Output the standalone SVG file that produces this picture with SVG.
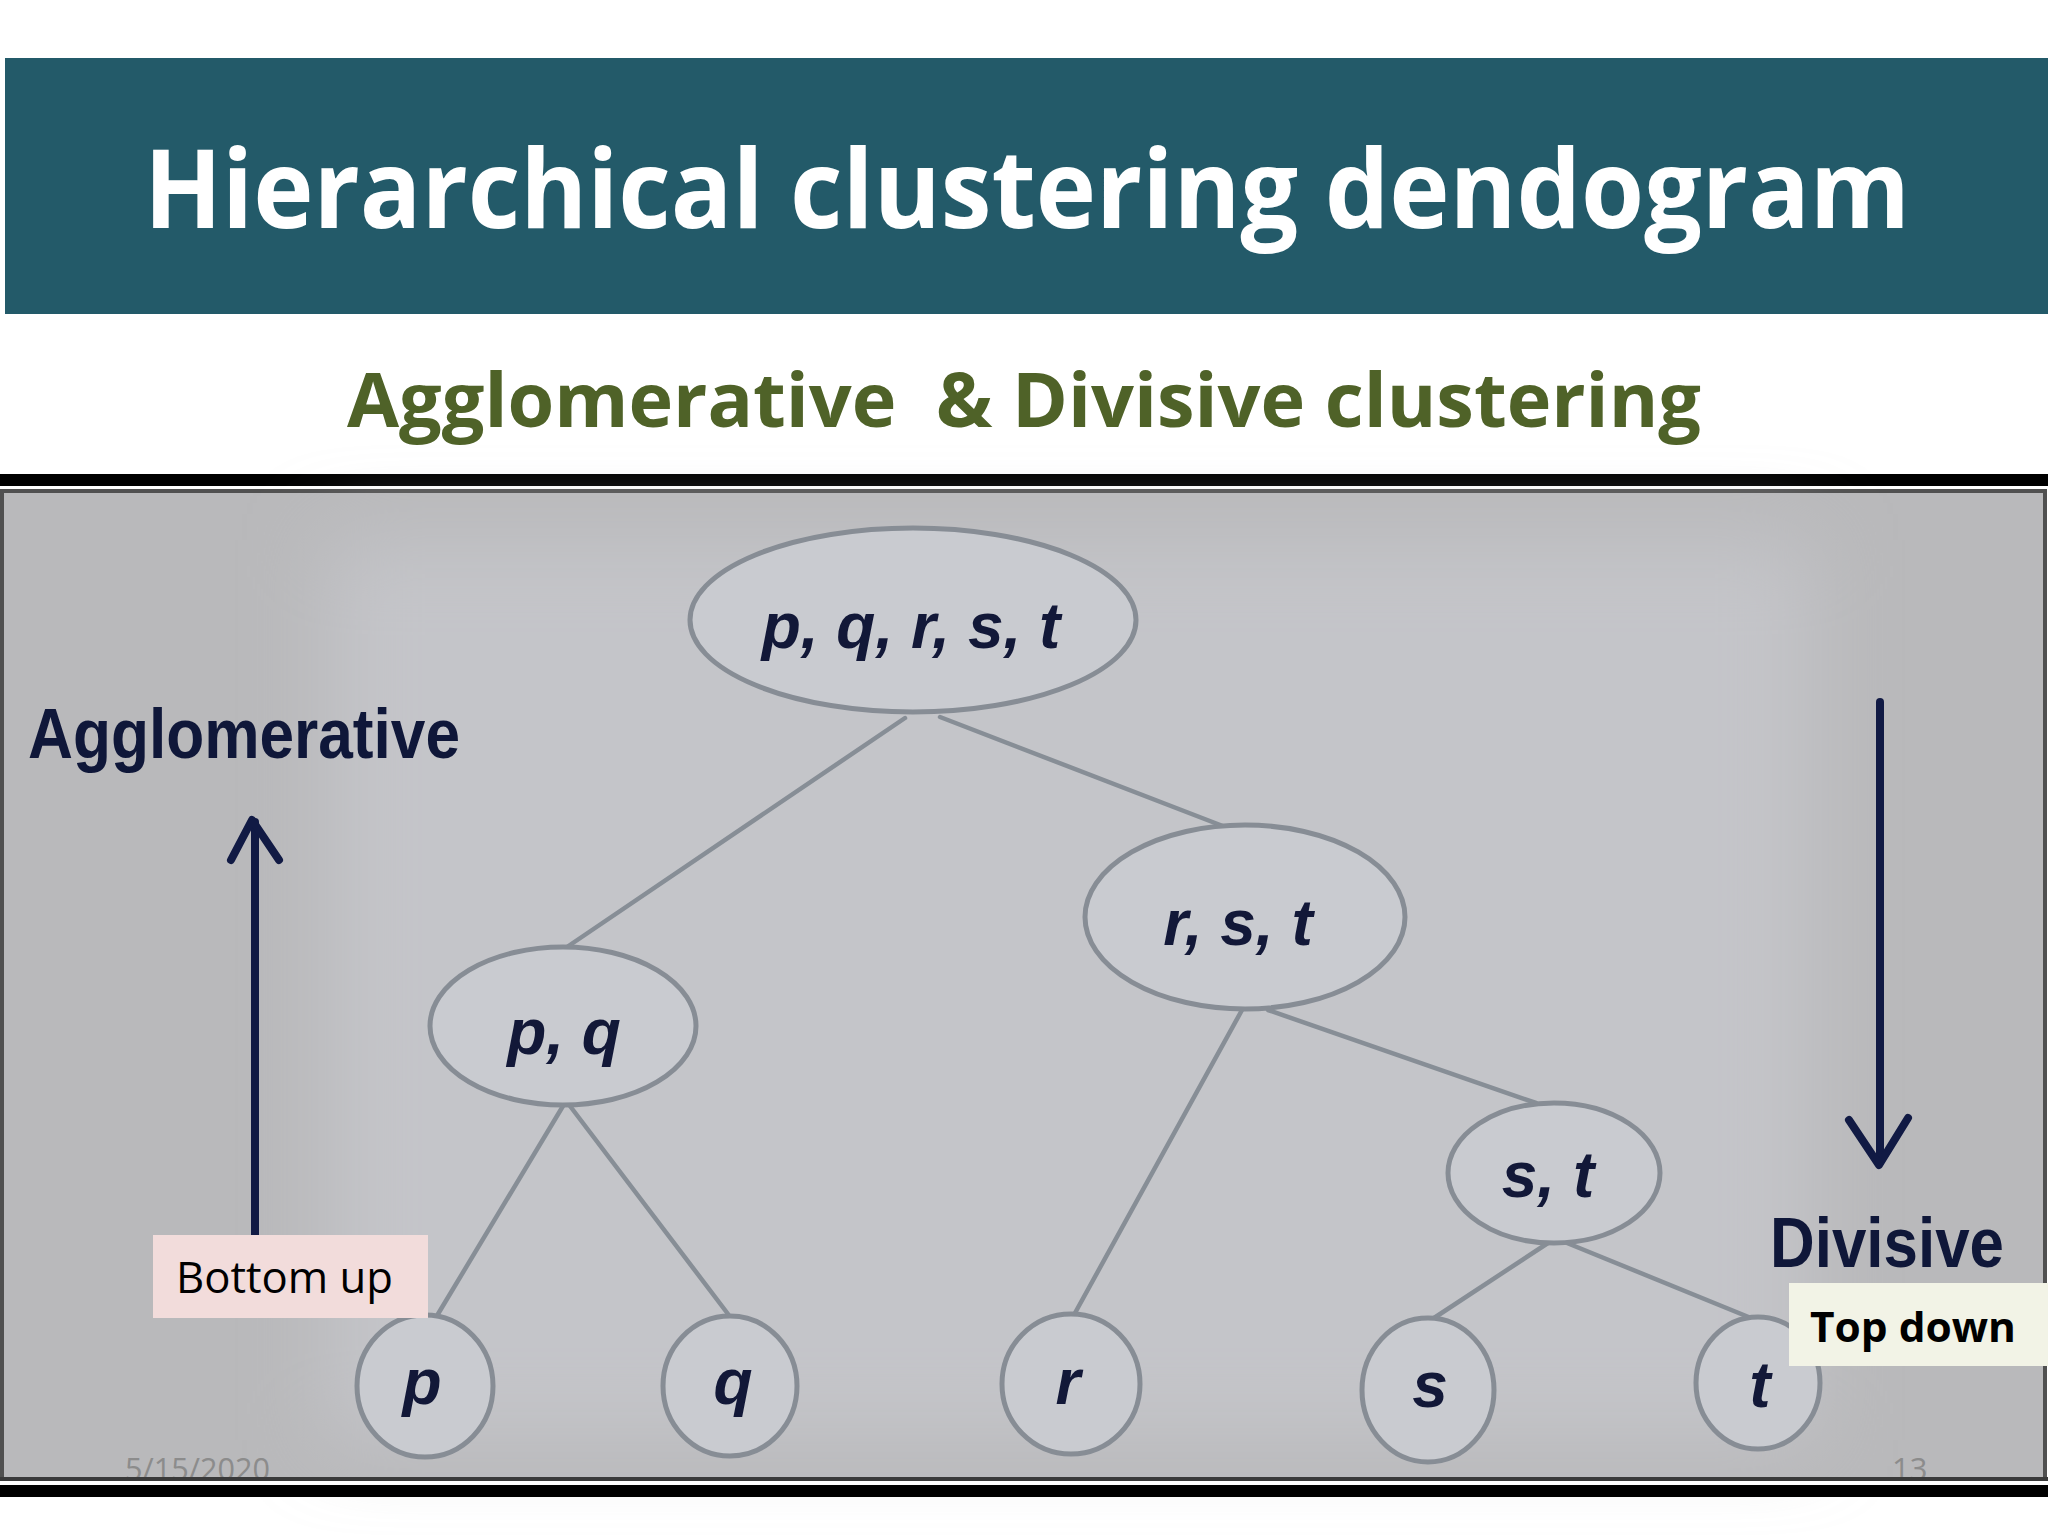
<svg xmlns="http://www.w3.org/2000/svg" width="2048" height="1536" viewBox="0 0 2048 1536">
  <defs>
    <style>
      .node ellipse { fill: #c9cbd0; stroke: #878d95; stroke-width: 5; }
      .node text { font-family: "Liberation Sans", Arial, sans-serif; font-weight: bold; font-style: italic; font-size: 64px; fill: #121838; text-anchor: middle; }
      .conn line { stroke: #878e96; stroke-width: 4.5; stroke-linecap: round; }
      .arrow { stroke: #111a44; stroke-width: 8; fill: none; stroke-linecap: round; stroke-linejoin: round; }
      .side { font-family: "Liberation Sans", Arial, sans-serif; font-weight: bold; font-size: 70px; fill: #0f1739; }
      .foot { font-family: "Open Sans", "Liberation Sans", sans-serif; font-size: 31px; fill: #8c8c8c; }
    </style>
    <filter id="blur" x="-20%" y="-20%" width="140%" height="140%">
      <feGaussianBlur stdDeviation="40"/>
    </filter>
  </defs>

  <!-- page -->
  <rect x="0" y="0" width="2048" height="1536" fill="#ffffff"/>

  <!-- title band -->
  <rect x="5" y="58" width="2043" height="256" fill="#235a69"/>
  <text x="144" y="228" font-family="'Open Sans', 'Liberation Sans', sans-serif" font-weight="bold" font-size="110" fill="#ffffff" textLength="1766" lengthAdjust="spacingAndGlyphs">Hierarchical clustering dendogram</text>

  <!-- subtitle -->
  <text x="347" y="427" xml:space="preserve" font-family="'Open Sans', 'Liberation Sans', sans-serif" font-weight="bold" font-size="76" fill="#4f6228" textLength="1354" lengthAdjust="spacingAndGlyphs">Agglomerative  &amp; Divisive clustering</text>

  <!-- picture area -->
  <rect x="0" y="474" width="2048" height="12" fill="#000000"/>
  <rect x="2" y="491" width="2043" height="988" fill="#b9b9bb" stroke="#505050" stroke-width="4"/>
  <rect x="330" y="540" width="1480" height="900" fill="#c4c5c9" filter="url(#blur)"/>

  <!-- connectors -->
  <g id="connectors" class="conn">
    <line x1="905" y1="718" x2="567" y2="947"/>
    <line x1="940" y1="717" x2="1228" y2="828"/>
    <line x1="563" y1="1106" x2="438" y2="1314"/>
    <line x1="570" y1="1106" x2="728" y2="1314"/>
    <line x1="1242" y1="1010" x2="1075" y2="1313"/>
    <line x1="1268" y1="1010" x2="1536" y2="1103"/>
    <line x1="1548" y1="1243" x2="1434" y2="1318"/>
    <line x1="1567" y1="1243" x2="1751" y2="1318"/>
  </g>

  <!-- nodes -->
  <g id="node-pqrst" class="node">
    <ellipse cx="913" cy="620" rx="223" ry="92"/>
    <text x="911" y="648">p, q, r, s, t</text>
  </g>
  <g id="node-rst" class="node">
    <ellipse cx="1245" cy="917" rx="160" ry="92"/>
    <text x="1238" y="945">r, s, t</text>
  </g>
  <g id="node-pq" class="node">
    <ellipse cx="563" cy="1026" rx="133" ry="79"/>
    <text x="564" y="1054">p, q</text>
  </g>
  <g id="node-st" class="node">
    <ellipse cx="1554" cy="1173" rx="106" ry="70"/>
    <text x="1548" y="1197">s, t</text>
  </g>
  <g id="node-p" class="node">
    <ellipse cx="425" cy="1386" rx="68" ry="71"/>
    <text x="422" y="1404">p</text>
  </g>
  <g id="node-q" class="node">
    <ellipse cx="730" cy="1386" rx="67" ry="70"/>
    <text x="733" y="1404">q</text>
  </g>
  <g id="node-r" class="node">
    <ellipse cx="1071" cy="1384" rx="69" ry="70"/>
    <text x="1068" y="1404">r</text>
  </g>
  <g id="node-s" class="node">
    <ellipse cx="1428" cy="1390" rx="66" ry="72"/>
    <text x="1430" y="1407">s</text>
  </g>
  <g id="node-t" class="node">
    <ellipse cx="1758" cy="1383" rx="62" ry="66"/>
    <text x="1760" y="1407">t</text>
  </g>

  <!-- direction arrows and labels -->
  <g id="agglomerative">
    <text class="side" x="28" y="758" textLength="432" lengthAdjust="spacingAndGlyphs">Agglomerative</text>
    <line class="arrow" x1="255" y1="1235" x2="255" y2="822"/>
    <polyline class="arrow" points="231,860 252,820 279,860"/>
  </g>
  <g id="divisive">
    <line class="arrow" x1="1880" y1="702" x2="1880" y2="1162"/>
    <polyline class="arrow" points="1849,1120 1879,1165 1908,1118"/>
    <text class="side" x="1770" y="1267" textLength="234" lengthAdjust="spacingAndGlyphs">Divisive</text>
  </g>

  <!-- callout boxes -->
  <g id="bottom-up">
    <rect x="153" y="1235" width="275" height="83" fill="#f2dcdb"/>
    <text x="176" y="1293" font-family="'Open Sans', 'Liberation Sans', sans-serif" font-size="43" fill="#000000" textLength="217" lengthAdjust="spacingAndGlyphs">Bottom up</text>
  </g>
  <g id="top-down">
    <rect x="1789" y="1283" width="259" height="83" fill="#f2f3e6"/>
    <text x="1810" y="1342" font-family="'Open Sans', 'Liberation Sans', sans-serif" font-weight="bold" font-size="42" fill="#000000" textLength="206" lengthAdjust="spacingAndGlyphs">Top down</text>
  </g>

  <!-- footer -->
  <text class="foot" x="125" y="1480" textLength="145" lengthAdjust="spacingAndGlyphs">5/15/2020</text>
  <text class="foot" x="1892" y="1480">13</text>

  <!-- bottom frame -->
  <rect x="0" y="1477" width="2048" height="4" fill="#3a3a3a"/>
  <rect x="0" y="1481" width="2048" height="4" fill="#ffffff"/>
  <rect x="0" y="1485" width="2048" height="12" fill="#000000"/>
</svg>
